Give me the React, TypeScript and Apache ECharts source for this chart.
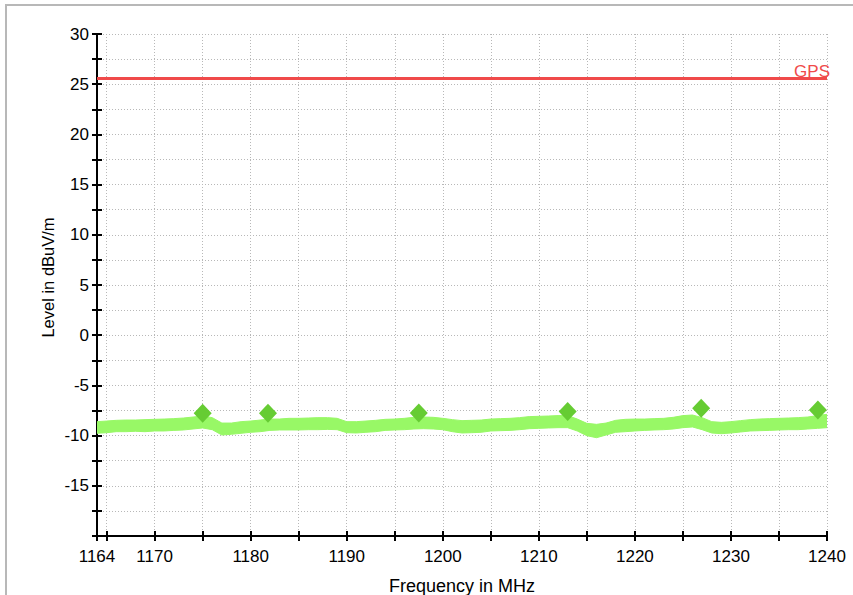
import React, { useEffect, useRef } from "react";
import * as echarts from "echarts";

const freqs = [
  1164, 1165, 1166, 1167, 1168, 1169, 1170, 1171, 1172, 1173, 1174, 1175, 1176, 1177, 1178, 1179,
  1180, 1181, 1182, 1183, 1184, 1185, 1186, 1187, 1188, 1189, 1190, 1191, 1192, 1193, 1194, 1195,
  1196, 1197, 1198, 1199, 1200, 1201, 1202, 1203, 1204, 1205, 1206, 1207, 1208, 1209, 1210, 1211,
  1212, 1213, 1214, 1215, 1216, 1217, 1218, 1219, 1220, 1221, 1222, 1223, 1224, 1225, 1226, 1227,
  1228, 1229, 1230, 1231, 1232, 1233, 1234, 1235, 1236, 1237, 1238, 1239, 1240,
];

const upperLevel = [
  -8.61, -8.55, -8.48, -8.45, -8.45, -8.41, -8.38, -8.35, -8.31, -8.25, -8.15, -8.05, -8.21, -8.75, -8.75, -8.61,
  -8.55, -8.45, -8.35, -8.35, -8.28, -8.28, -8.25, -8.21, -8.21, -8.28, -8.61, -8.61, -8.55, -8.48, -8.38, -8.35,
  -8.28, -8.18, -8.15, -8.18, -8.28, -8.41, -8.51, -8.48, -8.45, -8.35, -8.31, -8.28, -8.21, -8.11, -8.08, -8.05,
  -8.01, -8.01, -8.35, -8.78, -8.88, -8.75, -8.48, -8.38, -8.35, -8.35, -8.31, -8.28, -8.18, -8.01, -7.95, -8.21,
  -8.61, -8.68, -8.61, -8.51, -8.41, -8.35, -8.31, -8.28, -8.25, -8.21, -8.15, -8.01, -7.88,
];

const lowerLevel = [
  -9.77, -9.71, -9.61, -9.61, -9.57, -9.61, -9.54, -9.54, -9.48, -9.44, -9.34, -9.24, -9.41, -9.94, -9.87, -9.77,
  -9.67, -9.61, -9.48, -9.44, -9.44, -9.44, -9.41, -9.41, -9.38, -9.41, -9.71, -9.74, -9.67, -9.61, -9.48, -9.44,
  -9.41, -9.34, -9.31, -9.34, -9.41, -9.61, -9.74, -9.71, -9.67, -9.54, -9.51, -9.48, -9.41, -9.31, -9.28, -9.24,
  -9.21, -9.21, -9.54, -10.01, -10.21, -9.94, -9.67, -9.61, -9.54, -9.48, -9.44, -9.41, -9.34, -9.21, -9.14, -9.41,
  -9.74, -9.81, -9.74, -9.64, -9.54, -9.51, -9.48, -9.44, -9.41, -9.41, -9.34, -9.28, -9.21,
];

const markerFreqs = [1175.0, 1181.8, 1197.5, 1213.0, 1226.9, 1239.05];
const markerLevels = [-7.78, -7.78, -7.75, -7.6, -7.28, -7.45];

const gpsLimit = 25.55;

const xLabelValues = [1164, 1170, 1180, 1190, 1200, 1210, 1220, 1230, 1240];
const yLabelValues = [-15, -10, -5, 0, 5, 10, 15, 20, 25, 30];

const FONT = "'Liberation Sans', Arial, Helvetica, sans-serif";

export default function App() {
  const ref = useRef<HTMLDivElement>(null);

  useEffect(() => {
    document.body.style.margin = "0";
    if (!ref.current) return;
    const chart = echarts.init(ref.current, undefined, { renderer: "svg" });

    const markerData = markerFreqs.map((f, i) => [f, markerLevels[i]]);
    const bandData = freqs.map((f, i) => [f, lowerLevel[i], upperLevel[i]]);

    const gridLine = { show: true, lineStyle: { color: "#b8b8b8", width: 1, type: [1, 2] as any } };

    const xBase = {
      type: "value" as const,
      min: 1164,
      max: 1240,
      minInterval: 5,
      maxInterval: 5,
      splitNumber: 15,
      position: "bottom" as const,
      gridIndex: 0,
    };
    const yBase = {
      type: "value" as const,
      min: -20,
      max: 30,
      interval: 2.5,
      position: "left" as const,
      gridIndex: 0,
    };

    chart.setOption({
      animation: false,
      textStyle: { fontFamily: FONT },
      grid: {
        left: 97,
        right: 26,
        top: 34,
        bottom: 59,
        containLabel: false,
        outerBoundsMode: "none",
      },
      xAxis: [
        {
          ...xBase,
          axisLine: { show: true, onZero: false, lineStyle: { color: "#000", width: 2 } },
          axisTick: { show: true, length: 5, lineStyle: { color: "#000", width: 2 } },
          axisLabel: {
            show: true,
            color: "#000",
            fontSize: 17,
            fontFamily: FONT,
            margin: 12,
            formatter: (v: number) => (xLabelValues.indexOf(Math.round(v)) >= 0 ? String(Math.round(v)) : ""),
          },
          splitLine: gridLine,
          name: "Frequency in MHz",
          nameLocation: "middle",
          nameGap: 41,
          nameTextStyle: { color: "#000", fontSize: 18, fontFamily: FONT },
        },
        {
          ...xBase,
          axisLine: { show: false, onZero: false },
          axisTick: { show: true, inside: true, length: 5, lineStyle: { color: "#000", width: 2 } },
          axisLabel: { show: false },
          splitLine: { show: false },
        },
      ],
      yAxis: [
        {
          ...yBase,
          axisLine: { show: true, onZero: false, lineStyle: { color: "#000", width: 2 } },
          axisTick: { show: true, length: 5, lineStyle: { color: "#000", width: 2 } },
          axisLabel: {
            show: true,
            color: "#000",
            fontSize: 17,
            fontFamily: FONT,
            margin: 8,
            formatter: (v: number) => (yLabelValues.indexOf(v) >= 0 ? String(v) : ""),
          },
          splitLine: gridLine,
        },
        {
          ...yBase,
          axisLine: { show: false, onZero: false },
          axisTick: { show: true, inside: true, length: 5, lineStyle: { color: "#000", width: 2 } },
          axisLabel: { show: false },
          splitLine: { show: false },
        },
      ],
      graphic: [
        {
          type: "rect",
          shape: { x: 6, y: 5, width: 1000, height: 800 },
          style: { fill: "none", stroke: "#b8b8b8", lineWidth: 2 },
          silent: true,
        },
        {
          type: "text",
          x: 48,
          y: 277.5,
          rotation: Math.PI / 2,
          style: {
            text: "Level in dBuV/m",
            fill: "#000",
            font: `16.5px ${FONT}`,
            align: "center",
            verticalAlign: "middle",
          },
          silent: true,
        },
      ],
      series: [
        {
          name: "Level",
          type: "custom",
          xAxisIndex: 0,
          yAxisIndex: 0,
          data: bandData,
          encode: { x: 0, y: [1, 2] },
          silent: true,
          clip: true,
          z: 3,
          renderItem: (params: any, api: any) => {
            if (params.dataIndex !== 0) return null;
            const top = freqs.map((f, i) => api.coord([f, upperLevel[i]]));
            const bottom = freqs.map((f, i) => api.coord([f, lowerLevel[i]])).reverse();
            return {
              type: "polygon",
              shape: { points: top.concat(bottom) },
              style: { fill: "#98f866", stroke: "#98f866", lineWidth: 1 },
            };
          },
        },
        {
          name: "Markers",
          type: "scatter",
          xAxisIndex: 0,
          yAxisIndex: 0,
          data: markerData,
          symbol: "diamond",
          symbolSize: [18, 19],
          itemStyle: { color: "#66cc33", opacity: 1 },
          silent: true,
          z: 5,
          markLine: {
            silent: true,
            symbol: "none",
            animation: false,
            lineStyle: { color: "#f04a4a", width: 3, type: "solid", opacity: 1 },
            label: {
              show: true,
              position: "insideEndTop",
              formatter: "GPS",
              color: "#f04a4a",
              fontSize: 17,
              fontFamily: FONT,
              distance: [-3, -1],
            },
            data: [{ yAxis: gpsLimit }],
          },
        },
      ],
    });

    return () => chart.dispose();
  }, []);

  return <div ref={ref} style={{ width: 853, height: 595 }} />;
}
